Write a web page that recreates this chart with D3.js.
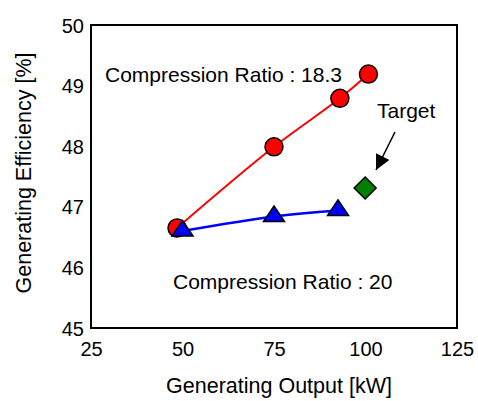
<!DOCTYPE html>
<html>
<head>
<meta charset="utf-8">
<script src="https://cdn.jsdelivr.net/npm/d3@7"></script>
<style>
  html, body { margin: 0; padding: 0; background: #fff; }
  svg { display: block; font-family: "Liberation Sans", Arial, sans-serif; }
</style>
</head>
<body>
<svg id="chart" width="478" height="401"></svg>
<script>
// ---- data ----
const xTicks = [25, 50, 75, 100, 125];
const yTicks = [45, 46, 47, 48, 49, 50];
const cr183X = [48.5, 75, 93, 100.8];
const cr183Y = [46.65, 47.99, 48.79, 49.19];
const cr20X = [50, 75, 92.5];
const cr20Y = [46.6, 46.84, 46.94];
const targetX = [99.9];
const targetY = [47.31];
const labels = ["Compression Ratio : 18.3", "Compression Ratio : 20", "Target"];
const xTitle = "Generating Output [kW]";
const yTitle = "Generating Efficiency [%]";

// ---- layout ----
const svg = d3.select("#chart");
const L = 91, R = 457, T = 25, B = 328;
const x = d3.scaleLinear().domain([25, 125]).range([L, R]);
const y = d3.scaleLinear().domain([45, 50]).range([B, T]);

// frame
svg.append("rect").attr("x", L).attr("y", T).attr("width", R - L).attr("height", B - T)
  .attr("fill", "none").attr("stroke", "#000").attr("stroke-width", 2);

// axes (labels only)
const xAxis = svg.append("g").attr("transform", `translate(0,${B})`)
  .call(d3.axisBottom(x).tickValues(xTicks).tickFormat(d3.format("d")).tickSize(0).tickPadding(14));
xAxis.select(".domain").remove();
xAxis.selectAll("text").attr("font-size", 20).attr("fill", "#000")
  .attr("font-family", "Liberation Sans, Arial, sans-serif").attr("dy", "0.71em");

const yAxis = svg.append("g").attr("transform", `translate(${L},0)`)
  .call(d3.axisLeft(y).tickValues(yTicks).tickFormat(d3.format("d")).tickSize(0).tickPadding(7));
yAxis.select(".domain").remove();
yAxis.selectAll("text").attr("font-size", 20).attr("fill", "#000")
  .attr("font-family", "Liberation Sans, Arial, sans-serif").attr("dy", "0.35em");

// titles
svg.append("text").attr("x", (L + R) / 2 + 5).attr("y", 393).attr("text-anchor", "middle")
  .attr("font-size", 21.5).attr("fill", "#000").text(xTitle);
svg.append("text").attr("transform", "translate(31,173) rotate(-90)").attr("text-anchor", "middle")
  .attr("font-size", 21.5).attr("fill", "#000").text(yTitle);

// series
const redData = cr183X.map((v, i) => [v, cr183Y[i]]);
const blueData = cr20X.map((v, i) => [v, cr20Y[i]]);
const line = d3.line().x(d => x(d[0])).y(d => y(d[1])).curve(d3.curveCatmullRom.alpha(0.5));

svg.append("path").datum(redData).attr("d", line).attr("fill", "none")
  .attr("stroke", "#ff0000").attr("stroke-width", 2);
svg.selectAll(".red").data(redData).enter().append("circle")
  .attr("cx", d => x(d[0])).attr("cy", d => y(d[1])).attr("r", 9)
  .attr("fill", "#ff0000").attr("stroke", "#000").attr("stroke-width", 1.5);

svg.append("path").datum(blueData).attr("d", line).attr("fill", "none")
  .attr("stroke", "#0000ff").attr("stroke-width", 2.5);
svg.selectAll(".blue").data(blueData).enter().append("path")
  .attr("transform", d => `translate(${x(d[0])},${y(d[1])})`)
  .attr("d", "M0,-10.5L10.5,5L-10.5,5Z")
  .attr("fill", "#0000ff").attr("stroke", "#000").attr("stroke-width", 1.5).attr("stroke-linejoin", "miter");

// target
const tData = targetX.map((v, i) => [v, targetY[i]]);
svg.selectAll(".tgt").data(tData).enter().append("path")
  .attr("transform", d => `translate(${x(d[0])},${y(d[1])})`)
  .attr("d", "M0,-11L11,0L0,11L-11,0Z")
  .attr("fill", "#008000").attr("stroke", "#000").attr("stroke-width", 1.5);

// arrow
svg.append("defs").append("marker").attr("id", "ah").attr("viewBox", "0 0 10 10")
  .attr("refX", 10).attr("refY", 5).attr("markerWidth", 15).attr("markerHeight", 15)
  .attr("markerUnits", "userSpaceOnUse").attr("orient", "auto")
  .append("path").attr("d", "M0,0L10,5L0,10Z").attr("fill", "#000");
svg.append("line").attr("x1", 395).attr("y1", 132).attr("x2", 376).attr("y2", 170)
  .attr("stroke", "#000").attr("stroke-width", 1.5).attr("marker-end", "url(#ah)");

// annotations
svg.append("text").attr("x", 105).attr("y", 82).attr("font-size", 21).attr("fill", "#000").text(labels[0]);
svg.append("text").attr("x", 173).attr("y", 289).attr("font-size", 21).attr("fill", "#000").text(labels[1]);
svg.append("text").attr("x", 377).attr("y", 118).attr("font-size", 21).attr("fill", "#000").text(labels[2]);
</script>
</body>
</html>
